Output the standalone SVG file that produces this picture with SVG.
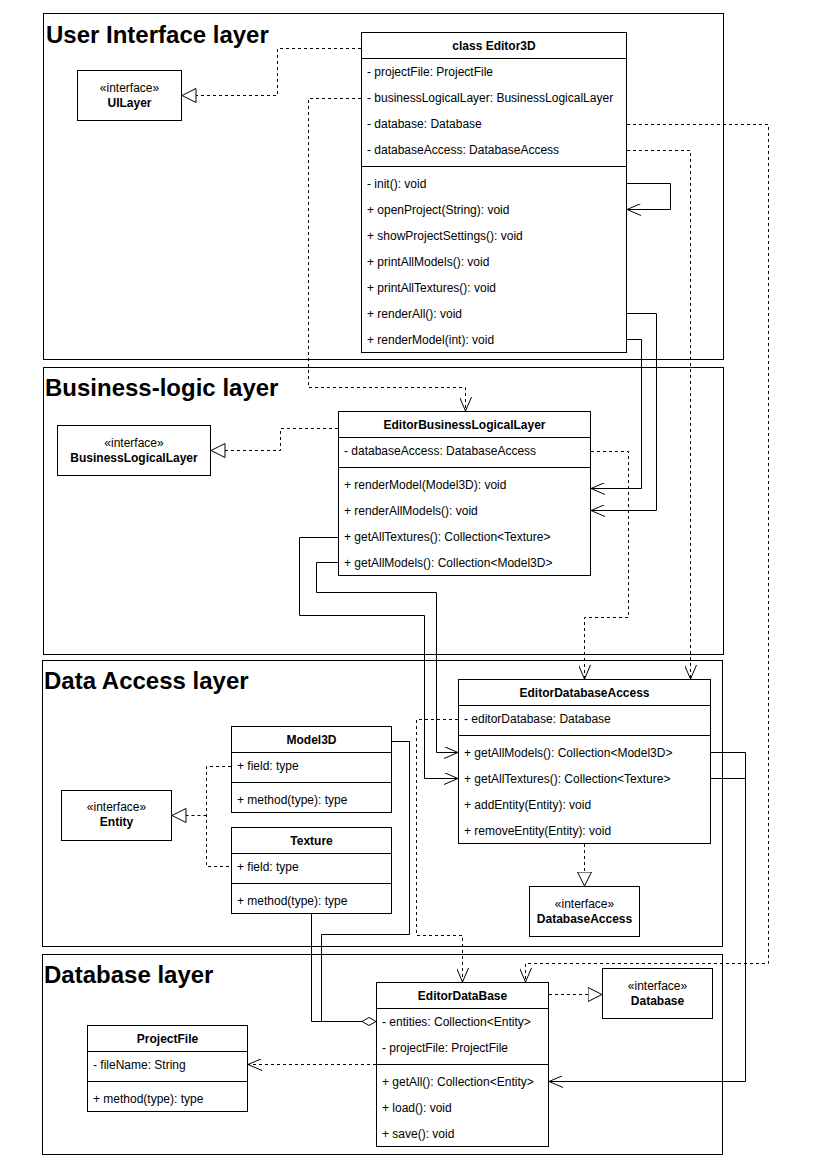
<svg xmlns="http://www.w3.org/2000/svg" width="824" height="1166" viewBox="0 0 824 1166">
<style>
text{font-family:"Liberation Sans",Arial,sans-serif;font-size:12px;fill:#000}
.t{font-weight:bold;text-anchor:middle}
.c{text-anchor:middle}
.L{font-size:24px;font-weight:bold}
.box{fill:#fff;stroke:#000;stroke-width:1}
.layer{fill:none;stroke:#000;stroke-width:1}
.ln{fill:none;stroke:#000;stroke-width:1}
.e{fill:none;stroke:#000;stroke-width:1}
.d{stroke-dasharray:3 3}
</style>
<defs>
<marker id="open" markerUnits="userSpaceOnUse" viewBox="0 0 14 12" refX="14" refY="6" markerWidth="14" markerHeight="12" orient="auto"><path d="M0,0 L14,6 L0,12" fill="none" stroke="#000" stroke-width="1"/></marker>
<marker id="tri" markerUnits="userSpaceOnUse" viewBox="0 0 15 15" refX="14.5" refY="7.5" markerWidth="15" markerHeight="15" orient="auto"><path d="M0.5,0.5 L14.5,7.5 L0.5,14.5 Z" fill="#fff" stroke="#000" stroke-width="1"/></marker>
<marker id="dia" markerUnits="userSpaceOnUse" viewBox="0 0 15 9" refX="14.5" refY="4.5" markerWidth="15" markerHeight="9" orient="auto"><path d="M0.5,4.5 L7.5,0.5 L14.5,4.5 L7.5,8.5 Z" fill="#fff" stroke="#000" stroke-width="1"/></marker>
</defs>
<rect width="824" height="1166" fill="#fff"/>

<g id="layers">
<rect class="layer" x="43.5" y="13.5" width="680" height="346"/>
<text class="L" x="46" y="43">User Interface layer</text>
<rect class="layer" x="43.5" y="367.5" width="680" height="287"/>
<text class="L" x="45" y="396">Business-logic layer</text>
<rect class="layer" x="42.5" y="660.5" width="680" height="286"/>
<text class="L" x="44" y="689">Data Access layer</text>
<rect class="layer" x="42.5" y="954.5" width="680" height="200"/>
<text class="L" x="44" y="983">Database layer</text>
</g>

<g id="Editor3D">
<rect class="box" x="361.5" y="32.5" width="265" height="320"/>
<line class="ln" x1="361.5" y1="58.5" x2="626.5" y2="58.5"/>
<line class="ln" x1="361.5" y1="166.5" x2="626.5" y2="166.5"/>
<text class="t" x="494" y="50">class Editor3D</text>
<text x="367" y="76">- projectFile: ProjectFile</text>
<text x="367" y="102">- businessLogicalLayer: BusinessLogicalLayer</text>
<text x="367" y="128">- database: Database</text>
<text x="367" y="154">- databaseAccess: DatabaseAccess</text>
<text x="367" y="188">- init(): void</text>
<text x="367" y="214">+ openProject(String): void</text>
<text x="367" y="240">+ showProjectSettings(): void</text>
<text x="367" y="266">+ printAllModels(): void</text>
<text x="367" y="292">+ printAllTextures(): void</text>
<text x="367" y="318">+ renderAll(): void</text>
<text x="367" y="344">+ renderModel(int): void</text>
</g>

<g id="UILayer">
<rect class="box" x="77.5" y="70.5" width="104" height="50"/>
<text class="c" x="129.5" y="92">«interface»</text>
<text class="t" x="129.5" y="107">UILayer</text>
</g>

<g id="EditorBusinessLogicalLayer">
<rect class="box" x="338.5" y="411.5" width="252" height="164"/>
<line class="ln" x1="338.5" y1="437.5" x2="590.5" y2="437.5"/>
<line class="ln" x1="338.5" y1="467.5" x2="590.5" y2="467.5"/>
<text class="t" x="464.5" y="429">EditorBusinessLogicalLayer</text>
<text x="344" y="455">- databaseAccess: DatabaseAccess</text>
<text x="344" y="489">+ renderModel(Model3D): void</text>
<text x="344" y="515">+ renderAllModels(): void</text>
<text x="344" y="541">+ getAllTextures(): Collection&lt;Texture&gt;</text>
<text x="344" y="567">+ getAllModels(): Collection&lt;Model3D&gt;</text>
</g>

<g id="BusinessLogicalLayer">
<rect class="box" x="57.5" y="425.5" width="153" height="50"/>
<text class="c" x="134" y="447">«interface»</text>
<text class="t" x="134" y="462">BusinessLogicalLayer</text>
</g>

<g id="EditorDatabaseAccess">
<rect class="box" x="458.5" y="679.5" width="252" height="164"/>
<line class="ln" x1="458.5" y1="705.5" x2="710.5" y2="705.5"/>
<line class="ln" x1="458.5" y1="735.5" x2="710.5" y2="735.5"/>
<text class="t" x="584.5" y="697">EditorDatabaseAccess</text>
<text x="464" y="723">- editorDatabase: Database</text>
<text x="464" y="757">+ getAllModels(): Collection&lt;Model3D&gt;</text>
<text x="464" y="783">+ getAllTextures(): Collection&lt;Texture&gt;</text>
<text x="464" y="809">+ addEntity(Entity): void</text>
<text x="464" y="835">+ removeEntity(Entity): void</text>
</g>

<g id="DatabaseAccess">
<rect class="box" x="529.5" y="886.5" width="110" height="50"/>
<text class="c" x="584.5" y="908">«interface»</text>
<text class="t" x="584.5" y="923">DatabaseAccess</text>
</g>

<g id="Model3D">
<rect class="box" x="231.5" y="726.5" width="160" height="86"/>
<line class="ln" x1="231.5" y1="752.5" x2="391.5" y2="752.5"/>
<line class="ln" x1="231.5" y1="782.5" x2="391.5" y2="782.5"/>
<text class="t" x="311.5" y="744">Model3D</text>
<text x="237" y="770">+ field: type</text>
<text x="237" y="804">+ method(type): type</text>
</g>

<g id="Texture">
<rect class="box" x="231.5" y="827.5" width="160" height="86"/>
<line class="ln" x1="231.5" y1="853.5" x2="391.5" y2="853.5"/>
<line class="ln" x1="231.5" y1="883.5" x2="391.5" y2="883.5"/>
<text class="t" x="311.5" y="845">Texture</text>
<text x="237" y="871">+ field: type</text>
<text x="237" y="905">+ method(type): type</text>
</g>

<g id="Entity">
<rect class="box" x="61.5" y="790.5" width="110" height="50"/>
<text class="c" x="116.5" y="811">«interface»</text>
<text class="t" x="116.5" y="826">Entity</text>
</g>

<g id="EditorDataBase">
<rect class="box" x="376.5" y="982.5" width="172" height="164"/>
<line class="ln" x1="376.5" y1="1008.5" x2="548.5" y2="1008.5"/>
<line class="ln" x1="376.5" y1="1064.5" x2="548.5" y2="1064.5"/>
<text class="t" x="462.5" y="1000">EditorDataBase</text>
<text x="382" y="1026">- entities: Collection&lt;Entity&gt;</text>
<text x="382" y="1052">- projectFile: ProjectFile</text>
<text x="382" y="1086">+ getAll(): Collection&lt;Entity&gt;</text>
<text x="382" y="1112">+ load(): void</text>
<text x="382" y="1138">+ save(): void</text>
</g>

<g id="Database">
<rect class="box" x="602.5" y="968.5" width="110" height="50"/>
<text class="c" x="657.5" y="990">«interface»</text>
<text class="t" x="657.5" y="1005">Database</text>
</g>

<g id="ProjectFile">
<rect class="box" x="87.5" y="1025.5" width="160" height="86"/>
<line class="ln" x1="87.5" y1="1051.5" x2="247.5" y2="1051.5"/>
<line class="ln" x1="87.5" y1="1081.5" x2="247.5" y2="1081.5"/>
<text class="t" x="167.5" y="1043">ProjectFile</text>
<text x="93" y="1069">- fileName: String</text>
<text x="93" y="1103">+ method(type): type</text>
</g>

<g id="connectors">
<!-- realizations -->
<path class="e d" d="M361,48.5 H277.5 V95.5 H182" marker-end="url(#tri)"/>
<path class="e d" d="M338,428.5 H280.5 V450.5 H211" marker-end="url(#tri)"/>
<path class="e d" d="M231,766.5 H206.5 V866.5 H231 M206.5,815.5 H172" marker-end="url(#tri)"/>
<path class="e d" d="M584.5,844 V886" marker-end="url(#tri)"/>
<path class="e d" d="M549,994.5 H602" marker-end="url(#tri)"/>
<!-- dependencies -->
<path class="e d" d="M361,98.5 H308.5 V387.5 H465.5 V411" marker-end="url(#open)"/>
<path class="e d" d="M627,124.5 H768.5 V963.5 H525.5 V982" marker-end="url(#open)"/>
<path class="e d" d="M627,150.5 H690.5 V679" marker-end="url(#open)"/>
<path class="e d" d="M591,451.5 H628.5 V617.5 H584.5 V679" marker-end="url(#open)"/>
<path class="e d" d="M458,719.5 H416.5 V935.5 H462.5 V982" marker-end="url(#open)"/>
<path class="e d" d="M376,1064.5 H248" marker-end="url(#open)"/>
<!-- associations -->
<path class="e" d="M627,183.5 H670.5 V209.5 H627" marker-end="url(#open)"/>
<path class="e" d="M627,313.5 H656.5 V510.5 H591" marker-end="url(#open)"/>
<path class="e" d="M627,339.5 H641.5 V488.5 H591" marker-end="url(#open)"/>
<path class="e" d="M338,537.5 H299.5 V615.5 H424.5 V778.5 H458" marker-end="url(#open)"/>
<path class="e" d="M338,562.5 H316.5 V592.5 H436.5 V752.5 H458" marker-end="url(#open)"/>
<path class="e" d="M711,752.5 H745.5 V1081.5 H549" marker-end="url(#open)"/>
<path class="e" d="M711,778.5 H745.5"/>
<!-- aggregation -->
<path class="e" d="M392,741.5 H409.5 V934.5 H321.5 V1021.5"/>
<path class="e" d="M311.5,914 V1021.5 H376" marker-end="url(#dia)"/>
</g>
</svg>
